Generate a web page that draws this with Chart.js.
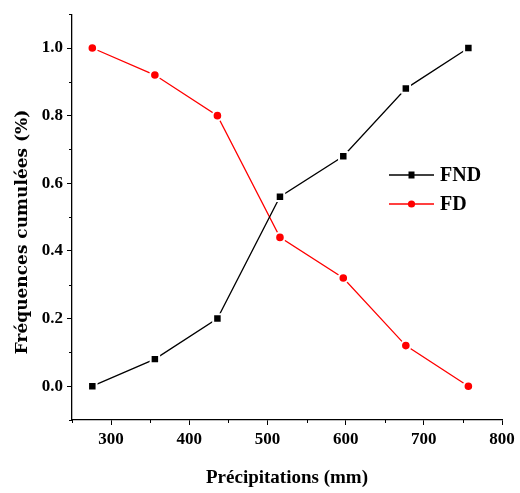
<!DOCTYPE html>
<html>
<head>
<meta charset="utf-8">
<script src="https://cdn.jsdelivr.net/npm/chart.js@4.4.1/dist/chart.umd.min.js"></script>
<style>
	html, body { margin: 0; padding: 0; background: #fff; }
	#wrap { width: 520px; height: 493px; }
</style>
</head>
<body>
<div id="wrap"><canvas id="chart" width="520" height="493"></canvas></div>
<script>
// ── Data ──────────────────────────────────────────────────────────────────────
const precip = [276, 356, 436, 516, 597, 677, 757];
const fnd = [0, 0.08, 0.2, 0.56, 0.68, 0.88, 1.0];
const fd = [1.0, 0.92, 0.8, 0.44, 0.32, 0.12, 0.0];
const xTicks = [300, 400, 500, 600, 700, 800];
const xMinor = [250, 350, 450, 550, 650, 750];
const yTicks = [0, 0.2, 0.4, 0.6, 0.8, 1.0];
const yMinor = [-0.1, 0.1, 0.3, 0.5, 0.7, 0.9, 1.1];
const seriesNames = ['FND', 'FD'];
const yTitle = 'Fréquences cumulées (%)';
const xTitle = 'Précipitations (mm)';

const SERIF = '"Liberation Serif", "DejaVu Serif", serif';
const WIDE_SERIF = '"DejaVu Serif", "Liberation Serif", serif';

// ── Plugins ───────────────────────────────────────────────────────────────────

// Short minor ticks (Origin style)
const minorTicks = {
	id: 'minorTicks',
	afterDraw(chart) {
		const { ctx, scales: { x, y }, chartArea } = chart;
		ctx.save();
		ctx.strokeStyle = '#000';
		ctx.lineWidth = 1;
		ctx.beginPath();
		xMinor.forEach((v) => {
			const px = Math.round(x.getPixelForValue(v)) + 0.5;
			ctx.moveTo(px, chartArea.bottom);
			ctx.lineTo(px, chartArea.bottom + 3);
		});
		yMinor.forEach((v) => {
			const py = Math.round(y.getPixelForValue(v)) + 0.5;
			ctx.moveTo(chartArea.left, py);
			ctx.lineTo(chartArea.left - 3, py);
		});
		ctx.stroke();
		ctx.restore();
	},
};

// Rotated y-axis title, placed a little below the plot centre as in the source
const yAxisTitle = {
	id: 'yAxisTitle',
	afterDraw(chart) {
		const { ctx } = chart;
		ctx.save();
		ctx.translate(23, 232);
		ctx.rotate(-Math.PI / 2);
		ctx.fillStyle = '#000';
		ctx.font = 'bold 17px ' + WIDE_SERIF;
		ctx.textAlign = 'center';
		ctx.textBaseline = 'middle';
		ctx.fillText(yTitle, 0, 0);
		ctx.restore();
	},
};

// Legend drawn inside the plot area
const insideLegend = {
	id: 'insideLegend',
	afterDraw(chart) {
		const { ctx } = chart;
		const x0 = 389, x1 = 434, rows = [175, 204];
		ctx.save();
		chart.data.datasets.forEach((ds, i) => {
			const yy = rows[i];
			ctx.strokeStyle = ds.borderColor;
			ctx.lineWidth = 1.3;
			ctx.beginPath();
			ctx.moveTo(x0, yy);
			ctx.lineTo(x1, yy);
			ctx.stroke();
			ctx.fillStyle = ds.borderColor;
			const cx = (x0 + x1) / 2;
			if (ds.pointStyle === 'rect') {
				ctx.fillRect(cx - 3, yy - 3.5, 6, 7);
			} else {
				ctx.beginPath();
				ctx.arc(cx, yy, 3.6, 0, Math.PI * 2);
				ctx.fill();
			}
			ctx.fillStyle = '#000';
			ctx.font = 'bold 20px ' + SERIF;
			ctx.textBaseline = 'middle';
			ctx.fillText(ds.label, x1 + 6, yy + 1);
		});
		ctx.restore();
	},
};

// ── Chart ─────────────────────────────────────────────────────────────────────

const toPoints = (ys) => precip.map((x, i) => ({ x, y: ys[i] }));

new Chart(document.getElementById('chart'), {
	type: 'scatter',
	data: {
		datasets: [
			{
				label: seriesNames[0],
				data: toPoints(fnd),
				showLine: true,
				borderColor: '#000',
				backgroundColor: '#000',
				borderWidth: 1.3,
				pointStyle: 'rect',
				pointRadius: 6,
				pointBorderColor: '#fff',
				pointBorderWidth: 2,
				pointBackgroundColor: '#000',
			},
			{
				label: seriesNames[1],
				data: toPoints(fd),
				showLine: true,
				borderColor: '#ff0000',
				backgroundColor: '#ff0000',
				borderWidth: 1.3,
				pointStyle: 'circle',
				pointRadius: 4.8,
				pointBorderColor: '#fff',
				pointBorderWidth: 2,
				pointBackgroundColor: '#ff0000',
			},
		],
	},
	options: {
		responsive: false,
		animation: false,
		devicePixelRatio: 1,
		layout: { padding: { top: 11, right: 18, left: 0, bottom: 0 } },
		plugins: {
			legend: { display: false },
			tooltip: { enabled: false },
		},
		scales: {
			x: {
				type: 'linear',
				min: 250,
				max: 800,
				afterBuildTicks: (s) => { s.ticks = xTicks.map((v) => ({ value: v })); },
				afterFit: (s) => { s.height = 73; },
				border: { color: '#000', width: 1.3 },
				grid: { drawOnChartArea: false, drawTicks: true, tickLength: 5, color: '#000' },
				ticks: {
					color: '#000',
					padding: 4,
					maxRotation: 0,
					font: { family: SERIF, size: 17, weight: 'bold' },
				},
				title: {
					display: true,
					text: xTitle,
					color: '#000',
					padding: { top: 9 },
					font: { family: SERIF, size: 19, weight: 'bold' },
				},
			},
			y: {
				type: 'linear',
				min: -0.1,
				max: 1.1,
				afterBuildTicks: (s) => { s.ticks = yTicks.map((v) => ({ value: v })); },
				afterFit: (s) => { s.width = 72; },
				border: { color: '#000', width: 1.3 },
				grid: { drawOnChartArea: false, drawTicks: true, tickLength: 5, color: '#000' },
				ticks: {
					color: '#000',
					padding: 4,
					callback: (v) => Number(v).toFixed(1),
					font: { family: SERIF, size: 17, weight: 'bold' },
				},
				title: { display: false },
			},
		},
	},
	plugins: [minorTicks, yAxisTitle, insideLegend],
});
</script>
</body>
</html>
